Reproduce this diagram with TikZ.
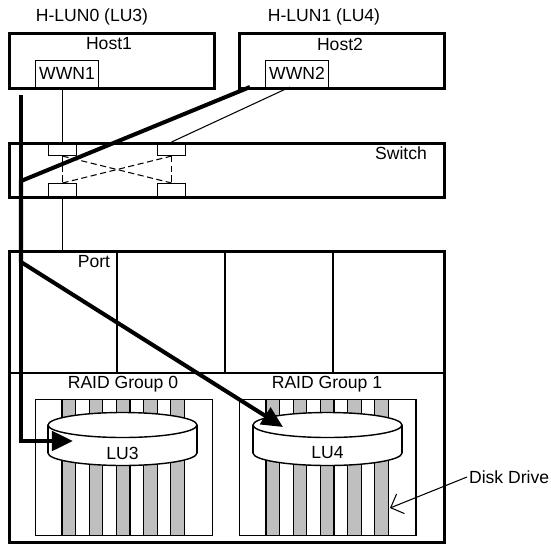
\documentclass[tikz,border=0pt]{standalone}
\usepackage{fontspec}
\setmainfont{Liberation Sans}
\usetikzlibrary{arrows.meta}
\tikzset{
  unitbox/.style={draw, line width=1.7pt, inner sep=0pt, anchor=north west},
  tag/.style={draw, line width=0.6pt, inner sep=0pt, anchor=north west,
    minimum width=1.26cm, minimum height=0.55cm},
  swport/.style={draw, line width=0.6pt, inner sep=0pt, anchor=north west,
    minimum width=0.56cm, minimum height=0.26cm},
  rgbox/.style={draw, line width=0.8pt, inner sep=0pt, anchor=north west,
    minimum width=3.54cm, minimum height=2.72cm},
  fcline/.style={line width=0.6pt},
  lunpath/.style={line width=2.3pt, -{Triangle[length=12pt,width=11pt]}},
}
\begin{document}
\begin{tikzpicture}[x=0.02cm, y=-0.02cm, font=\fontsize{10}{12}\selectfont]
  \useasboundingbox (0,0) rectangle (551,552);
  % Hosts
  \node[unitbox, minimum width=4.1cm, minimum height=1.1cm] (host1) at (8,32) {};
  \node[unitbox, minimum width=4.1cm, minimum height=1.1cm] (host2) at (238,32) {};
  \node (hlun0) at (92,17) {H-LUN0 (LU3)};
  \node (hlun1) at (324,17) {H-LUN1 (LU4)};
  \node (h1lbl) at (109,44) {Host1};
  \node (h2lbl) at (340,44) {Host2};
  \node[tag] (wwn1) at (35,59.5) {WWN1};
  \node[tag] (wwn2) at (265,59.5) {WWN2};
  % Switch and its ports
  \node[unitbox, minimum width=8.7cm, minimum height=1.08cm] (switch) at (8,142) {};
  \node (swlbl) at (401,153) {Switch};
  \node[swport] (pTL) at (48,142) {};
  \node[swport] (pTR) at (157,142) {};
  \node[swport] (pBL) at (48,183) {};
  \node[swport] (pBR) at (157,183) {};
  % Controller (ports above, RAID groups below)
  \node[unitbox, minimum width=8.7cm, minimum height=5.82cm] (ctl) at (8,250) {};
  \draw[line width=1.7pt] (8,373) -- (443,373);
  \foreach \px in {117,225,333}
    \draw[line width=1.7pt] (\px,250) -- (\px,373);
  \node (portlbl) at (94,262) {Port};
  \node (rg0lbl) at (123,384) {RAID Group 0};
  \node (rg1lbl) at (327,384) {RAID Group 1};
  % Disk drives
  \foreach \gx in {62,266} {
    \foreach \i in {0,2,4,6,8}
      \fill[black!25] (\gx+13.6*\i,399) rectangle (\gx+13.6*\i+13.6,535);
    \foreach \i in {0,...,9}
      \draw[fcline] (\gx+13.6*\i,399) -- (\gx+13.6*\i,535);
  }
  \node[rgbox] (rg0) at (35,399) {};
  \node[rgbox] (rg1) at (238.5,399) {};
  % Logical units
  \foreach \cx in {122.5,327.5} {
    \filldraw[fill=white, line width=0.8pt] (\cx,453) ellipse [x radius=74.5, y radius=12.5];
    \fill[white] (\cx-74.5,425) rectangle (\cx+74.5,453);
    \draw[line width=0.8pt] (\cx-74.5,425) -- (\cx-74.5,453) (\cx+74.5,425) -- (\cx+74.5,453);
    \filldraw[fill=white, line width=0.8pt] (\cx,425) ellipse [x radius=74.5, y radius=12.5];
  }
  \node (lu3) at (122.5,453) {LU3};
  \node (lu4) at (327.5,453) {LU4};
  % Fibre links
  \coordinate (w2) at (290,87);
  \draw[fcline] (pTL.north |- wwn1.south) -- (pTL.north);
  \draw[fcline] (pBL.south) -- (pBL.south |- ctl.north);
  \draw[fcline] (w2) -- (pTR.north);
  \draw[fcline, dashed, dash pattern=on 3.5pt off 2pt] (pTL.south) -- (pBL.north);
  \draw[fcline, dashed, dash pattern=on 3.5pt off 2pt] (pTR.south) -- (pBR.north);
  \draw[fcline, dashed, dash pattern=on 3.5pt off 2pt] (pTL.south) -- (pBR.north);
  \draw[fcline, dashed, dash pattern=on 3.5pt off 2pt] (pBL.north) -- (pTR.south);
  % Access paths
  \coordinate (h1a) at (21,95);
  \coordinate (bend) at (21,441);
  \coordinate (lu3in) at (73,441);
  \coordinate (h2a) at (250,87);
  \coordinate (join) at (21,181);
  \coordinate (split) at (21,262);
  \coordinate (lu4in) at (283,427);
  \draw[lunpath] (h1a) -- (bend) -- (lu3in);
  \draw[lunpath] (h2a) -- (join) -- (split) -- (lu4in);
  % Disk drive callout
  \node[anchor=west, inner sep=1pt] (ddlbl) at (467,477) {Disk Drive};
  \coordinate (ddtip) at (390,508);
  \draw[fcline, -{Straight Barb[length=6pt,width=12pt]}] (ddlbl.west) -- (ddtip);
\end{tikzpicture}
\end{document}
